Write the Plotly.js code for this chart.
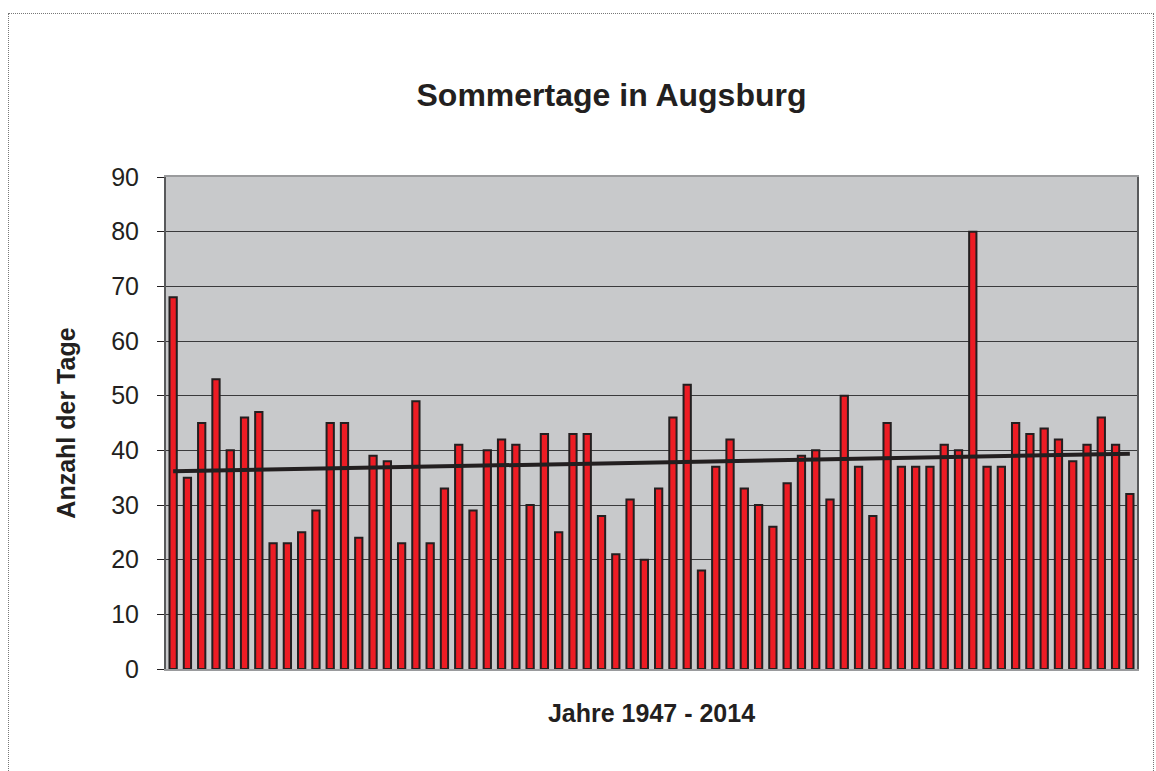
<!DOCTYPE html>
<html>
<head>
<meta charset="utf-8">
<script src="https://cdn.plot.ly/plotly-3.0.1.min.js"></script>
<style>
  html, body { margin: 0; padding: 0; background: #ffffff; }
  #wrap { position: relative; width: 1156px; height: 771px; }
  #chart { width: 1156px; height: 771px; }
  #frame { position: absolute; left: 8px; top: 13px; width: 1146px; height: 770px;
           border: 1px dotted #777; pointer-events: none; box-sizing: border-box; }
</style>
</head>
<body>
<div id="wrap">
  <div id="chart"></div>
  <div id="frame"></div>
</div>
<script>
// Years 1947 - 2014
const years = [];
for (let y = 1947; y <= 2014; y++) years.push(y);

// Number of summer days per year
const summerDays = [
  68, 35, 45, 53, 40, 46, 47, 23, 23, 25,
  29, 45, 45, 24, 39, 38, 23, 49, 23, 33,
  41, 29, 40, 42, 41, 30, 43, 25, 43, 43,
  28, 21, 31, 20, 33, 46, 52, 18, 37, 42,
  33, 30, 26, 34, 39, 40, 31, 50, 37, 28,
  45, 37, 37, 37, 41, 40, 80, 37, 37, 45,
  43, 44, 42, 38, 41, 46, 41, 32
];

const yTicks = [0, 10, 20, 30, 40, 50, 60, 70, 80, 90];

const chartTitle = "Sommertage in Augsburg";
const xTitle = "Jahre 1947 - 2014";
const yTitle = "Anzahl der Tage";

// Linear trend (least squares) computed from the data
const n = years.length;
const mx = years.reduce((a, b) => a + b, 0) / n;
const my = summerDays.reduce((a, b) => a + b, 0) / n;
let sxy = 0, sxx = 0;
for (let i = 0; i < n; i++) {
  sxy += (years[i] - mx) * (summerDays[i] - my);
  sxx += (years[i] - mx) * (years[i] - mx);
}
const slope = sxy / sxx;
const icpt = my - slope * mx;
const trendX = [years[0], years[n - 1]];
const trendY = trendX.map(x => icpt + slope * x);

const font = "Liberation Sans, Arial, sans-serif";

const traces = [
  {
    type: "bar",
    x: years,
    y: summerDays,
    marker: { color: "#ed1c24", line: { color: "#231f20", width: 2 } },
    hoverinfo: "x+y"
  },
  {
    type: "scatter",
    mode: "lines",
    x: trendX,
    y: trendY,
    line: { color: "#231f20", width: 4 },
    hoverinfo: "skip"
  }
];

const layout = {
  width: 1156,
  height: 771,
  margin: { l: 166, r: 19, t: 177, b: 102 },
  paper_bgcolor: "#ffffff",
  plot_bgcolor: "#c8c9cb",
  showlegend: false,
  bargap: 0.49,
  font: { family: font, color: "#000000" },
  title: {
    text: "<b>" + chartTitle + "</b>",
    font: { family: font, size: 32, color: "#231f20" },
    x: 611.5 / 1156, xanchor: "center",
    y: 1 - 95 / 771, yanchor: "middle", yref: "container"
  },
  xaxis: {
    range: [1946.5, 2014.5],
    showticklabels: false,
    ticks: "",
    showgrid: false,
    zeroline: false,
    showline: true,
    linecolor: "#9a9b9d",
    linewidth: 2,
    mirror: true,
    title: {
      text: "<b>" + xTitle + "</b>",
      font: { family: font, size: 25, color: "#231f20" },
      standoff: 34
    }
  },
  yaxis: {
    range: [0, 90],
    tickvals: yTicks,
    ticktext: yTicks.map(String),
    ticks: "outside",
    ticklen: 7,
    tickcolor: "#231f20",
    ticklabelstandoff: 13,
    tickfont: { family: font, size: 25, color: "#231f20" },
    showgrid: true,
    gridcolor: "#3a3a3c",
    gridwidth: 1,
    zeroline: false,
    showline: true,
    linecolor: "#58595b",
    linewidth: 2,
    mirror: true,
    title: {
      text: "<b>" + yTitle + "</b>",
      font: { family: font, size: 25, color: "#231f20" },
      standoff: 28
    }
  }
};

Plotly.newPlot("chart", traces, layout, { displayModeBar: false, staticPlot: true });
</script>
</body>
</html>
